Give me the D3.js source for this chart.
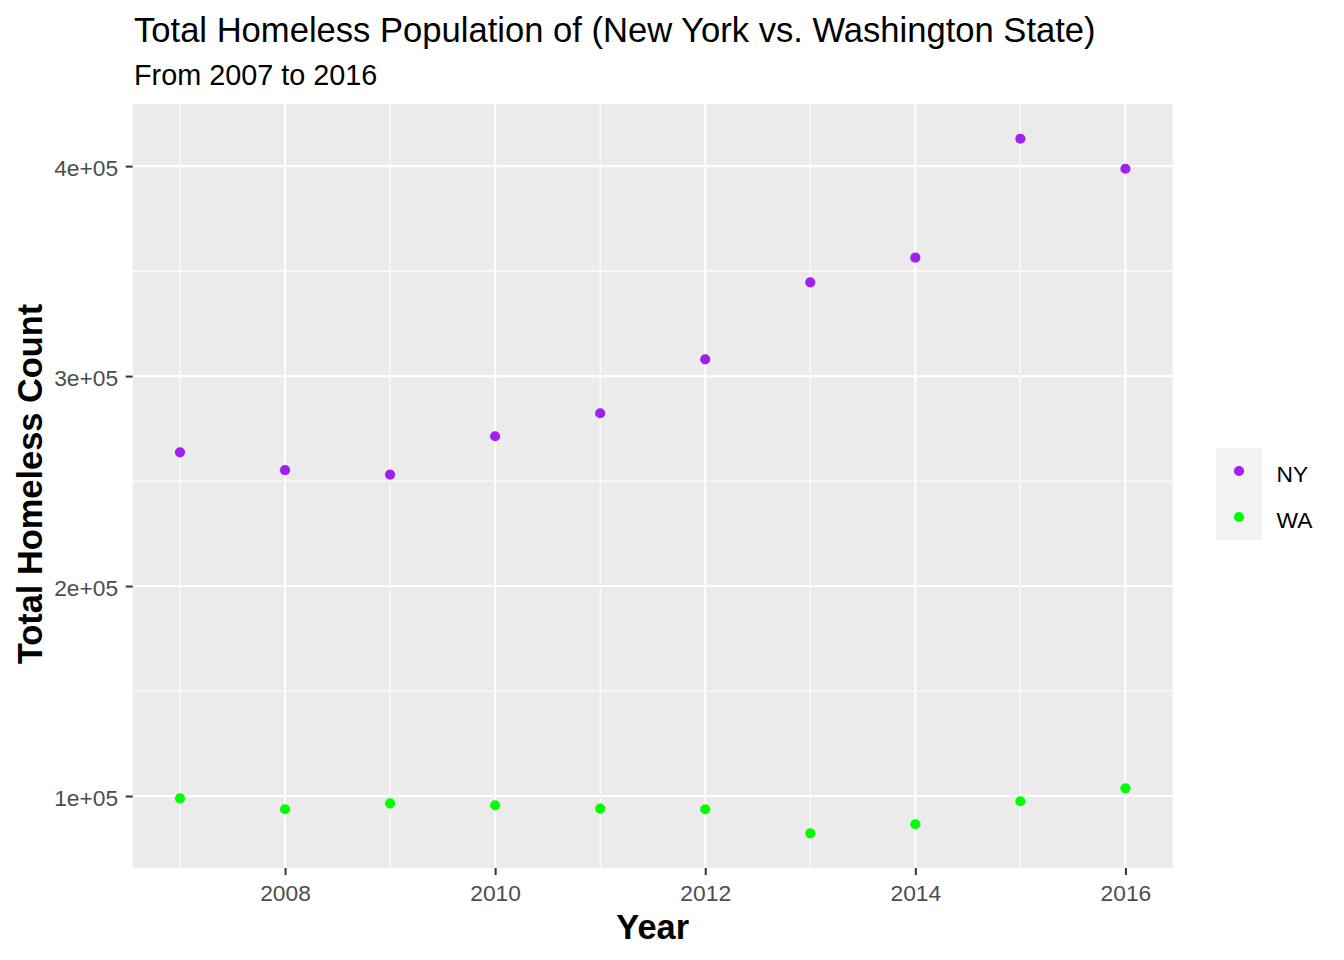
<!DOCTYPE html>
<html>
<head>
<meta charset="utf-8">
<script src="https://cdn.jsdelivr.net/npm/d3@7"></script>
<style>
  html, body { margin: 0; padding: 0; background: #ffffff; }
  svg { display: block; }
  text { font-family: "Liberation Sans", Arial, sans-serif; }
</style>
</head>
<body>
<svg id="chart" width="1344" height="960"></svg>
<script>
// ---- Data ----
const years = [2007, 2008, 2009, 2010, 2011, 2012, 2013, 2014, 2015, 2016];
const nyValues = [263700, 255200, 253100, 271350, 282300, 308000, 344650, 356400, 413050, 398750];
const waValues = [98900, 93700, 96500, 95600, 94000, 93700, 82250, 86550, 97500, 103650];
const seriesNames = ["NY", "WA"];
const seriesColors = ["#A020F0", "#00FF00"];
const xTicks = [2008, 2010, 2012, 2014, 2016];
const xMinorTicks = [2007, 2009, 2011, 2013, 2015];
const yTicks = [100000, 200000, 300000, 400000];
const yTickLabels = ["1e+05", "2e+05", "3e+05", "4e+05"];
const yMinorTicks = [150000, 250000, 350000];
const titleText = "Total Homeless Population of (New York vs. Washington State)";
const subtitleText = "From 2007 to 2016";
const xTitle = "Year";
const yTitle = "Total Homeless Count";

// ---- Layout ----
const panel = { left: 132.7, right: 1172.7, top: 104, bottom: 868 };
const svg = d3.select("#chart");

const series = seriesNames.map((name, i) => ({
  name,
  color: seriesColors[i],
  values: (i === 0 ? nyValues : waValues).map((v, j) => ({ year: years[j], value: v }))
}));

// ggplot-style 5% expansion
const xExt = d3.extent(years);
const xPad = (xExt[1] - xExt[0]) * 0.05;
const allVals = nyValues.concat(waValues);
const yExt = d3.extent(allVals);
const yPad = (yExt[1] - yExt[0]) * 0.05;

const x = d3.scaleLinear().domain([xExt[0] - xPad, xExt[1] + xPad]).range([panel.left, panel.right]);
const y = d3.scaleLinear().domain([yExt[0] - yPad, yExt[1] + yPad]).range([panel.bottom, panel.top]);

// Panel background
svg.append("rect")
  .attr("x", panel.left).attr("y", panel.top)
  .attr("width", panel.right - panel.left).attr("height", panel.bottom - panel.top)
  .attr("fill", "#EBEBEB");

// Grid lines
const grid = svg.append("g");
grid.selectAll(".ymin").data(yMinorTicks).join("line")
  .attr("x1", panel.left).attr("x2", panel.right)
  .attr("y1", d => y(d)).attr("y2", d => y(d))
  .attr("stroke", "#ffffff").attr("stroke-width", 1.1);
grid.selectAll(".xmin").data(xMinorTicks).join("line")
  .attr("y1", panel.top).attr("y2", panel.bottom)
  .attr("x1", d => x(d)).attr("x2", d => x(d))
  .attr("stroke", "#ffffff").attr("stroke-width", 1.1);
grid.selectAll(".ymaj").data(yTicks).join("line")
  .attr("x1", panel.left).attr("x2", panel.right)
  .attr("y1", d => y(d)).attr("y2", d => y(d))
  .attr("stroke", "#ffffff").attr("stroke-width", 2.1);
grid.selectAll(".xmaj").data(xTicks).join("line")
  .attr("y1", panel.top).attr("y2", panel.bottom)
  .attr("x1", d => x(d)).attr("x2", d => x(d))
  .attr("stroke", "#ffffff").attr("stroke-width", 2.1);

// Points
series.forEach(s => {
  svg.append("g").selectAll("circle").data(s.values).join("circle")
    .attr("cx", d => x(d.year))
    .attr("cy", d => y(d.value))
    .attr("r", 5.1)
    .attr("fill", s.color);
});

// Axes
const yAxis = d3.axisLeft(y).tickValues(yTicks)
  .tickFormat((d, i) => yTickLabels[i]).tickSize(7).tickPadding(7.5);
const gy = svg.append("g").attr("transform", `translate(${panel.left},0)`).call(yAxis);
gy.select(".domain").remove();
gy.selectAll(".tick line").attr("stroke", "#333333").attr("stroke-width", 2);
gy.selectAll(".tick text")
  .attr("fill", "#4D4D4D").attr("font-size", 22.8)
  .attr("font-family", "'Liberation Sans', Arial, sans-serif")
  .attr("dy", "0.43em");

const xAxis = d3.axisBottom(x).tickValues(xTicks)
  .tickFormat(d3.format("d")).tickSize(7).tickPadding(9.6);
const gx = svg.append("g").attr("transform", `translate(0,${panel.bottom})`).call(xAxis);
gx.select(".domain").remove();
gx.selectAll(".tick line").attr("stroke", "#333333").attr("stroke-width", 2);
gx.selectAll(".tick text")
  .attr("fill", "#4D4D4D").attr("font-size", 22.8)
  .attr("font-family", "'Liberation Sans', Arial, sans-serif");

// Titles
svg.append("text").attr("x", 134).attr("y", 41.5)
  .attr("font-size", 34.6).attr("fill", "#000").text(titleText);
svg.append("text").attr("x", 134).attr("y", 84.5)
  .attr("font-size", 28.8).attr("fill", "#000").text(subtitleText);

svg.append("text")
  .attr("x", (panel.left + panel.right) / 2).attr("y", 938.5)
  .attr("text-anchor", "middle").attr("font-size", 34.4).attr("font-weight", "bold")
  .attr("fill", "#000").text(xTitle);

svg.append("text")
  .attr("transform", `translate(41.5,${(panel.top + panel.bottom) / 2 - 2}) rotate(-90)`)
  .attr("text-anchor", "middle").attr("font-size", 34.4).attr("font-weight", "bold")
  .attr("fill", "#000").text(yTitle);

// Legend
const legend = svg.append("g").attr("transform", "translate(1216,448)");
const keyH = 46, keyW = 46;
legend.append("rect").attr("x", 0).attr("y", 0)
  .attr("width", keyW).attr("height", keyH * series.length).attr("fill", "#F2F2F2");
const items = legend.selectAll(".item").data(series).join("g")
  .attr("transform", (d, i) => `translate(0,${i * keyH})`);
items.append("circle").attr("cx", keyW / 2).attr("cy", keyH / 2).attr("r", 5.1).attr("fill", d => d.color);
items.append("text").attr("x", 60.5).attr("y", keyH / 2 + 10.6)
  .attr("font-size", 22.8).attr("fill", "#000").text(d => d.name);
</script>
</body>
</html>
